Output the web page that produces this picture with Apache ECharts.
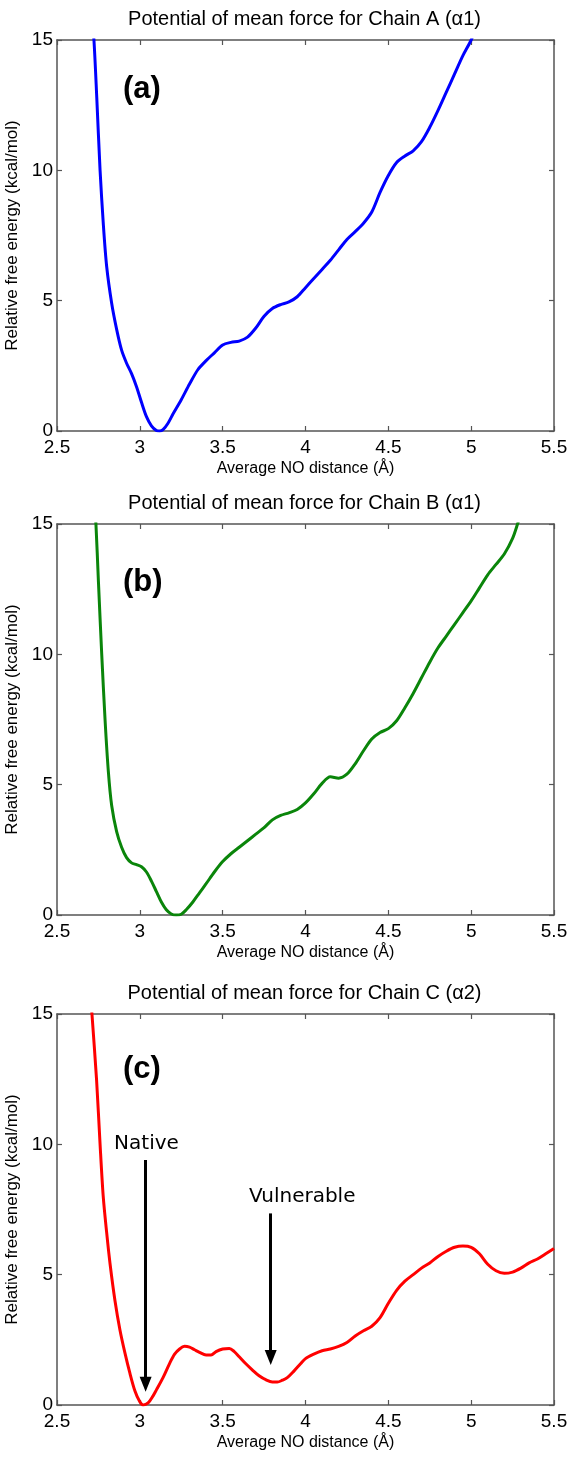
<!DOCTYPE html>
<html>
<head>
<meta charset="utf-8">
<script src="https://cdn.jsdelivr.net/npm/echarts@6/dist/echarts.min.js"></script>
<style>
  html, body { margin: 0; padding: 0; background: #fff; }
  #chart { width: 571px; height: 1457px; }
</style>
</head>
<body>
<div id="chart"></div>
<script>
// Potential of mean force profiles for three chains.
// Average NO distance (Å) and relative free energy (kcal/mol).

const xTicks = [2.5, 3, 3.5, 4, 4.5, 5, 5.5];
const yTicks = [0, 5, 10, 15];

const chainTitles = [
  'Potential of mean force for Chain A (\u03b11)',
  'Potential of mean force for Chain B (\u03b11)',
  'Potential of mean force for Chain C (\u03b12)'
];
const panelLetters = ['(a)', '(b)', '(c)'];

// Chain A
const distA = [2.70, 2.723, 2.74, 2.76, 2.78, 2.80, 2.83, 2.86, 2.89, 2.92, 2.95, 2.98, 3.01, 3.04, 3.07, 3.10, 3.12, 3.14, 3.17, 3.20, 3.25, 3.30, 3.35, 3.40, 3.45, 3.50, 3.55, 3.60, 3.65, 3.70, 3.75, 3.80, 3.85, 3.90, 3.95, 4.00, 4.05, 4.10, 4.15, 4.20, 4.25, 4.30, 4.35, 4.40, 4.45, 4.50, 4.55, 4.60, 4.65, 4.70, 4.75, 4.80, 4.85, 4.90, 4.95, 5.00, 5.03];
const energyA = [17.0, 15.0, 12.8, 10.0, 7.9, 6.3, 4.9, 3.9, 3.1, 2.6, 2.2, 1.7, 1.1, 0.55, 0.2, 0.02, 0.0, 0.05, 0.3, 0.65, 1.2, 1.8, 2.35, 2.7, 3.0, 3.3, 3.4, 3.45, 3.6, 3.95, 4.4, 4.7, 4.85, 4.95, 5.15, 5.5, 5.85, 6.2, 6.55, 6.95, 7.35, 7.65, 7.97, 8.4, 9.15, 9.8, 10.3, 10.55, 10.75, 11.1, 11.65, 12.3, 13.0, 13.7, 14.4, 15.0, 15.5];

// Chain B
const distB = [2.72, 2.735, 2.75, 2.77, 2.79, 2.81, 2.83, 2.86, 2.89, 2.92, 2.95, 2.98, 3.01, 3.04, 3.07, 3.10, 3.13, 3.16, 3.19, 3.22, 3.25, 3.28, 3.32, 3.36, 3.40, 3.45, 3.50, 3.55, 3.60, 3.65, 3.70, 3.75, 3.80, 3.85, 3.90, 3.95, 4.00, 4.05, 4.10, 4.15, 4.20, 4.25, 4.30, 4.35, 4.40, 4.45, 4.50, 4.55, 4.60, 4.65, 4.70, 4.75, 4.80, 4.85, 4.90, 4.95, 5.00, 5.05, 5.10, 5.15, 5.20, 5.25, 5.28, 5.30];
const energyB = [16.5, 15.0, 12.8, 10.0, 7.5, 5.5, 4.2, 3.2, 2.6, 2.2, 2.0, 1.93, 1.85, 1.65, 1.3, 0.9, 0.5, 0.2, 0.04, 0.0, 0.03, 0.2, 0.5, 0.85, 1.2, 1.65, 2.05, 2.35, 2.6, 2.85, 3.1, 3.35, 3.65, 3.82, 3.92, 4.05, 4.3, 4.65, 5.05, 5.3, 5.25, 5.4, 5.8, 6.3, 6.75, 7.0, 7.15, 7.45, 7.95, 8.5, 9.1, 9.7, 10.25, 10.7, 11.15, 11.6, 12.05, 12.55, 13.05, 13.45, 13.85, 14.45, 15.0, 15.4];

// Chain C
const distC = [2.70, 2.711, 2.739, 2.76, 2.779, 2.80, 2.82, 2.85, 2.88, 2.91, 2.94, 2.97, 3.00, 3.02, 3.05, 3.08, 3.10, 3.14, 3.18, 3.21, 3.24, 3.27, 3.30, 3.33, 3.36, 3.40, 3.43, 3.46, 3.50, 3.54, 3.57, 3.60, 3.64, 3.68, 3.72, 3.76, 3.80, 3.83, 3.86, 3.89, 3.93, 3.97, 4.00, 4.05, 4.10, 4.15, 4.20, 4.25, 4.30, 4.35, 4.40, 4.45, 4.50, 4.55, 4.60, 4.65, 4.70, 4.75, 4.80, 4.85, 4.90, 4.95, 5.00, 5.05, 5.10, 5.15, 5.20, 5.25, 5.30, 5.35, 5.40, 5.45, 5.50];
const energyC = [16.0, 15.0, 12.46, 10.0, 8.0, 6.6, 5.43, 4.0, 2.88, 2.0, 1.22, 0.55, 0.12, 0.0, 0.08, 0.35, 0.58, 1.05, 1.6, 1.95, 2.15, 2.25, 2.22, 2.12, 2.02, 1.92, 1.92, 2.05, 2.15, 2.17, 2.05, 1.85, 1.58, 1.34, 1.12, 0.97, 0.88, 0.88, 0.95, 1.05, 1.3, 1.58, 1.78, 1.95, 2.08, 2.15, 2.25, 2.4, 2.65, 2.85, 3.02, 3.35, 3.9, 4.4, 4.75, 5.0, 5.25, 5.45, 5.7, 5.9, 6.05, 6.1, 6.05, 5.8, 5.4, 5.15, 5.05, 5.1, 5.25, 5.45, 5.6, 5.8, 6.0];

// Annotated states on chain C (data coordinates)
const stateNames = ['Native', 'Vulnerable'];
const stateDist = [3.035, 3.79];
const arrowFrom = [9.4, 7.35];
const arrowTip = [0.51, 1.53];
const stateTextDist = [3.04, 3.98];
const stateTextEnergy = [9.62, 7.6];

const curveColors = ['#0000ff', '#0a850a', '#ff0000'];
const curves = [[distA, energyA], [distB, energyB], [distC, energyC]];

const FONT = '"Liberation Sans", Arial, sans-serif';
const plotLeft = 57, plotWidth = 497, plotHeight = 391;
const plotTops = [40, 524, 1014];
const letterOffsets = [34, 43, 40];
const axisColor = '#555';
const pxPerUnitY = plotHeight / 15;
const arrowHeadLen = 15;

const grids = [], xAxes = [], yAxes = [], titles = [], series = [], graphics = [];

plotTops.forEach((top, i) => {
  grids.push({
    left: plotLeft, top: top, width: plotWidth, height: plotHeight,
    containLabel: false, outerBoundsMode: 'none'
  });

  const xBase = {
    gridIndex: i, type: 'value',
    min: xTicks[0], max: xTicks[xTicks.length - 1], interval: 0.5,
    axisLine: { show: true, onZero: false, lineStyle: { color: axisColor, width: 1.5 } },
    axisTick: { show: true, inside: true, length: 5, lineStyle: { color: axisColor, width: 1.2 } },
    splitLine: { show: false }
  };
  xAxes.push(Object.assign({}, xBase, {
    position: 'bottom',
    axisLabel: { show: true, margin: 7, color: '#000', fontSize: 19, fontFamily: FONT },
    name: 'Average NO distance (\u00c5)', nameLocation: 'middle', nameGap: 30,
    nameTextStyle: { color: '#000', fontSize: 16, fontFamily: FONT }
  }));
  xAxes.push(Object.assign({}, xBase, { position: 'top', axisLabel: { show: false } }));

  const yBase = {
    gridIndex: i, type: 'value',
    min: yTicks[0], max: yTicks[yTicks.length - 1], interval: 5,
    axisLine: { show: true, onZero: false, lineStyle: { color: axisColor, width: 1.5 } },
    axisTick: { show: true, inside: true, length: 5, lineStyle: { color: axisColor, width: 1.2 } },
    splitLine: { show: false }
  };
  yAxes.push(Object.assign({}, yBase, {
    position: 'left',
    axisLabel: { show: true, margin: 4, color: '#000', fontSize: 19, fontFamily: FONT },
    name: 'Relative free energy (kcal/mol)', nameLocation: 'middle', nameGap: 31,
    nameTextStyle: { color: '#000', fontSize: 17, fontFamily: FONT }
  }));
  yAxes.push(Object.assign({}, yBase, { position: 'right', axisLabel: { show: false } }));

  titles.push({
    text: chainTitles[i], left: plotLeft + plotWidth / 2 - 6, top: top - 36, textAlign: 'center',
    textStyle: { color: '#000', fontSize: 20, fontWeight: 'normal', fontFamily: FONT }
  });

  graphics.push({
    type: 'text', left: 123, top: top + letterOffsets[i],
    style: { text: panelLetters[i], fill: '#000', font: 'bold 31px "Liberation Sans", Arial, sans-serif' }
  });

  const [xs, ys] = curves[i];
  series.push({
    type: 'line', xAxisIndex: 2 * i, yAxisIndex: 2 * i,
    data: xs.map((x, k) => [x, ys[k]]),
    showSymbol: false, symbol: 'none', smooth: 0.3, clip: true,
    lineStyle: { color: curveColors[i], width: 3 },
    itemStyle: { color: curveColors[i] },
    silent: true, z: 3
  });
});

// Arrows marking the native and vulnerable states on chain C
const arrowLines = stateNames.map((n, k) => [
  { coord: [stateDist[k], arrowFrom[k]] },
  { coord: [stateDist[k], arrowTip[k] + (arrowHeadLen / 2) / pxPerUnitY] }
]);
series.push({
  type: 'line', xAxisIndex: 4, yAxisIndex: 4, data: [], silent: true,
  markLine: {
    silent: true, animation: false,
    symbol: ['none', 'triangle'], symbolSize: [12, arrowHeadLen],
    label: { show: false },
    lineStyle: { color: '#000', width: 3, type: 'solid' },
    emphasis: { disabled: true },
    data: arrowLines
  }
});
series.push({
  type: 'scatter', xAxisIndex: 4, yAxisIndex: 4, silent: true,
  symbol: 'circle', symbolSize: 1, itemStyle: { color: '#fff', opacity: 0 },
  data: stateNames.map((n, k) => ({ name: n, value: [stateTextDist[k], stateTextEnergy[k]] })),
  label: {
    show: true, position: 'top', distance: 0, formatter: '{b}', opacity: 1,
    color: '#000', textBorderWidth: 0, fontSize: 20, fontFamily: '"DejaVu Sans", sans-serif'
  }
});

const chart = echarts.init(document.getElementById('chart'), null, { renderer: 'canvas' });
chart.setOption({
  animation: false,
  backgroundColor: '#fff',
  title: titles,
  grid: grids,
  xAxis: xAxes,
  yAxis: yAxes,
  series: series,
  graphic: graphics
});
</script>
</body>
</html>
